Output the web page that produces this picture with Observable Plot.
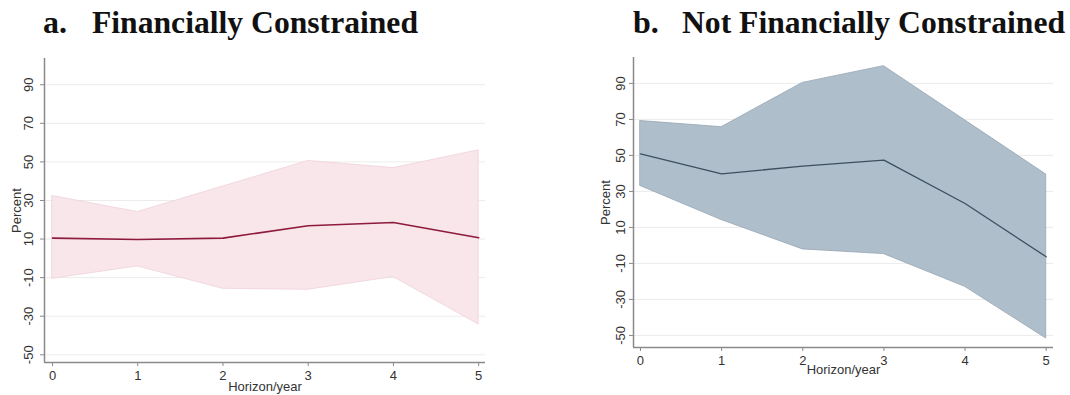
<!DOCTYPE html>
<html>
<head>
<meta charset="utf-8">
<script src="https://cdn.jsdelivr.net/npm/d3@7"></script>
<script src="https://cdn.jsdelivr.net/npm/@observablehq/plot@0.6"></script>
<style>
  html, body { margin: 0; padding: 0; background: #fff; }
  #wrap { position: relative; width: 1070px; height: 395px; overflow: hidden; background: #fff; }
  .panel { position: absolute; }
  .ttl { position: absolute; font-family: "Liberation Serif", "Times New Roman", serif; font-weight: bold;
         font-size: 32px; line-height: 32px; color: #111; white-space: nowrap; transform-origin: 0 0; }
</style>
</head>
<body>
<div id="wrap"></div>
<script>
// ---- data ----
const horizon = [0, 1, 2, 3, 4, 5];
const yTicks = [90, 70, 50, 30, 10, -10, -30, -50];

const constrainedEst   = [10.5, 9.8, 10.5, 16.9, 18.6, 10.7];
const constrainedUpper = [32.3, 24.0, 37.2, 50.5, 46.8, 56.0];
const constrainedLower = [-10.6, -4.2, -15.8, -16.3, -9.7, -34.3];

const notConstrainedEst   = [50.9, 39.8, 44.0, 47.4, 23.3, -6.3];
const notConstrainedUpper = [69.1, 65.7, 90.3, 99.6, 69.5, 39.4];
const notConstrainedLower = [33.0, 14.1, -2.2, -4.8, -23.0, -51.7];

const titleA = ["a.", "Financially Constrained"];
const titleB = ["b.", "Not Financially Constrained"];
const xLabel = "Horizon/year";
const yLabel = "Percent";

const wrap = document.getElementById("wrap");
const font = "Liberation Sans, Arial, sans-serif";
const axisColor = "#8a8a8a";
const textColor = "#333";
const fs = 13;

function panel(cfg) {
  const rows = horizon.map((h, i) => ({h, est: cfg.est[i], lo: cfg.lo[i], hi: cfg.hi[i]}));
  const chart = Plot.plot({
    width: cfg.width, height: cfg.height,
    marginLeft: cfg.ml, marginRight: cfg.mr, marginTop: cfg.mt, marginBottom: cfg.mb,
    style: {fontFamily: font, fontSize: fs + "px", color: textColor, background: "#fff"},
    x: {domain: cfg.xDomain, axis: null},
    y: {domain: cfg.yDomain, axis: null},
    marks: [
      Plot.ruleY(yTicks, {stroke: "#ececec", strokeWidth: 1}),
      Plot.areaY(rows, {x: "h", y1: "lo", y2: "hi", fill: cfg.band, stroke: cfg.bandStroke, strokeWidth: 0.8}),
      Plot.lineY(rows, {x: "h", y: "est", stroke: cfg.line, strokeWidth: cfg.lineWidth}),
      Plot.ruleX([cfg.xDomain[0]], {stroke: axisColor, strokeWidth: 1.5}),
      Plot.ruleY([cfg.yDomain[0]], {stroke: axisColor, strokeWidth: 1.5}),
      Plot.axisY({ticks: yTicks, tickSize: 4, tickFormat: () => "", stroke: axisColor, label: null}),
      Plot.axisX({ticks: horizon, tickSize: 4, tickPadding: 4, tickFormat: d3.format("d"), stroke: axisColor,
                  fill: textColor, label: null, fontSize: fs}),
      Plot.text(yTicks, {y: d => d, text: d => String(d), frameAnchor: "left", rotate: -90, dx: cfg.tickDx,
                         textAnchor: "middle", fill: textColor, fontSize: fs}),
      Plot.text([yLabel], {frameAnchor: "left", rotate: -90, dx: cfg.labelDx, textAnchor: "middle", fill: textColor, fontSize: fs}),
      Plot.text([xLabel], {frameAnchor: "bottom", dy: cfg.xLabelDy, textAnchor: "middle", fill: textColor, fontSize: fs})
    ]
  });
  chart.classList.add("panel");
  chart.style.left = cfg.left + "px";
  chart.style.top = cfg.top + "px";
  wrap.appendChild(chart);
}

panel({
  left: 0, top: 40, width: 530, height: 355, ml: 44, mr: 45, mt: 18, mb: 33,
  xDomain: [-0.094, 5.08], yDomain: [-54, 103.6],
  est: constrainedEst, lo: constrainedLower, hi: constrainedUpper,
  band: "#f8e6ea", bandStroke: "#efd2d9", line: "#8e1a3c", lineWidth: 1.6,
  tickDx: -16, labelDx: -28, xLabelDy: 28
});

panel({
  left: 560, top: 40, width: 510, height: 355, ml: 73, mr: 17, mt: 17, mb: 48,
  xDomain: [-0.086, 5.09], yDomain: [-56.7, 104.4],
  est: notConstrainedEst, lo: notConstrainedLower, hi: notConstrainedUpper,
  band: "#afbecb", bandStroke: "#94a4b2", line: "#3d4f5f", lineWidth: 1.3,
  tickDx: -13, labelDx: -28, xLabelDy: 26
});

function title(text, x, right) {
  const s = document.createElement("div");
  s.className = "ttl";
  s.textContent = text;
  s.style.left = x + "px";
  s.style.top = "6px";
  wrap.appendChild(s);
  if (right != null) {
    const w = s.getBoundingClientRect().width;
    s.style.transform = `scaleX(${(right - x) / w})`;
  }
}
title(titleA[0], 43, null);
title(titleA[1], 92, 418);
title(titleB[0], 633, null);
title(titleB[1], 682, 1065);
</script>
</body>
</html>
